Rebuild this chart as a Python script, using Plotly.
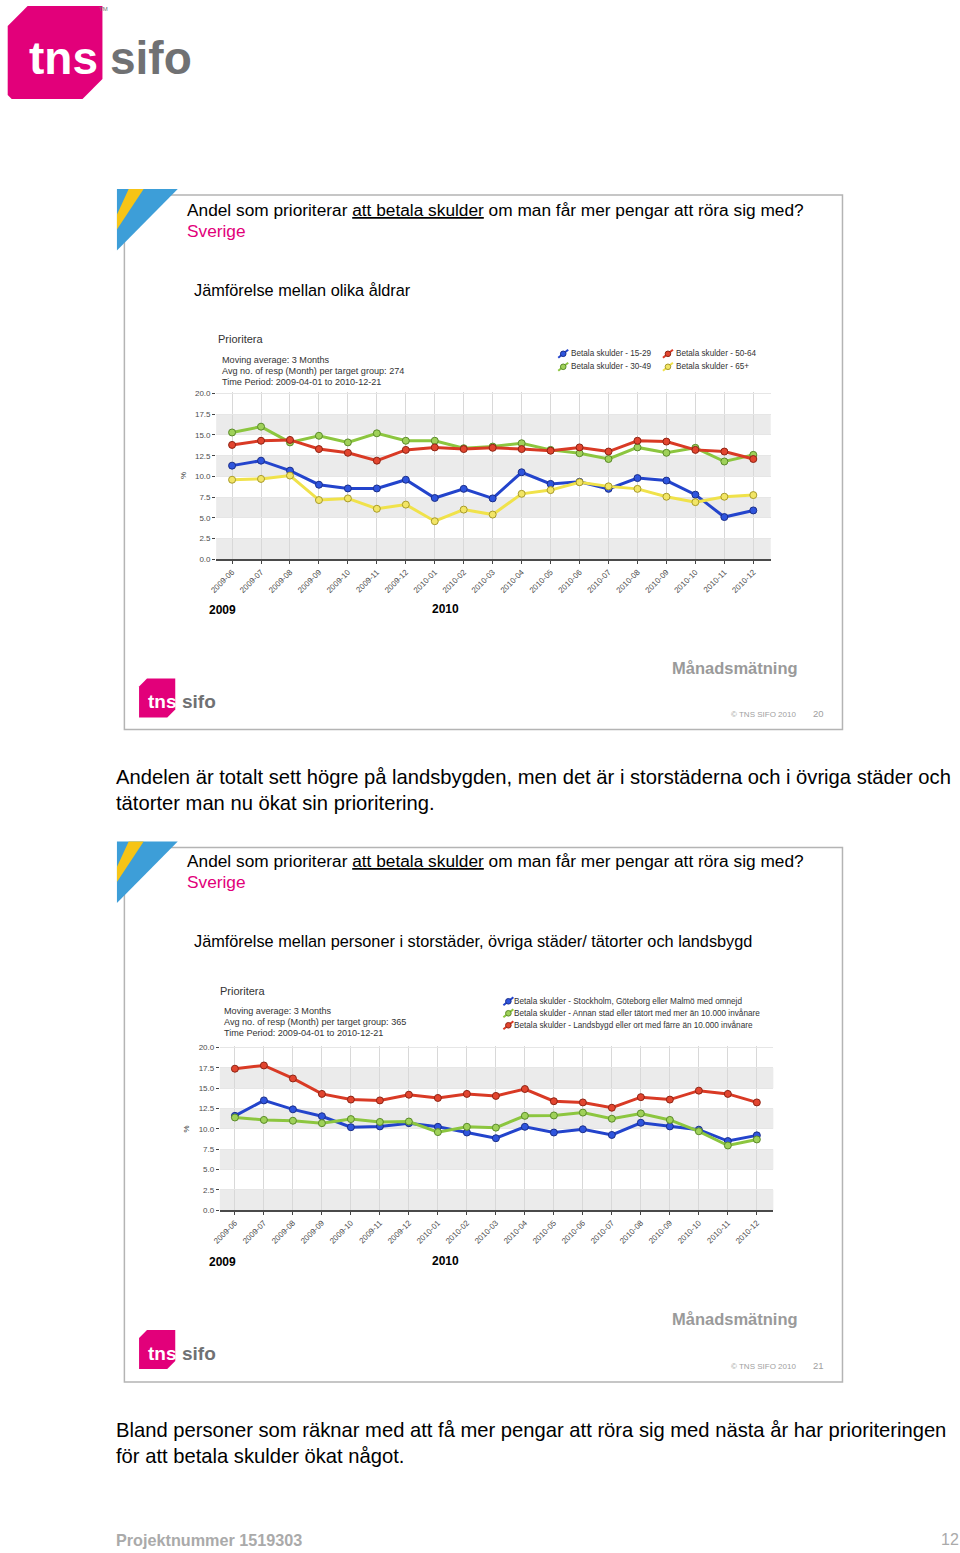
import plotly.graph_objects as go

# ---------------- data ----------------
months = ['2009-06', '2009-07', '2009-08', '2009-09', '2009-10', '2009-11', '2009-12',
          '2010-01', '2010-02', '2010-03', '2010-04', '2010-05', '2010-06', '2010-07',
          '2010-08', '2010-09', '2010-10', '2010-11', '2010-12']

age_15_29 = [11.3, 11.9, 10.7, 9.0, 8.55, 8.55, 9.6, 7.4, 8.5, 7.35, 10.5, 9.1, 9.35, 8.5, 9.8, 9.5, 7.8, 5.1, 5.9]
age_30_49 = [15.3, 16.0, 14.1, 14.9, 14.1, 15.2, 14.3, 14.3, 13.4, 13.6, 14.0, 13.2, 12.8, 12.1, 13.5, 12.85, 13.45, 11.8, 12.6]
age_50_64 = [13.8, 14.3, 14.4, 13.3, 12.85, 11.9, 13.2, 13.5, 13.3, 13.45, 13.3, 13.1, 13.5, 13.0, 14.3, 14.2, 13.2, 13.0, 12.1]
age_65 = [9.6, 9.7, 10.1, 7.15, 7.35, 6.1, 6.6, 4.6, 6.0, 5.4, 7.9, 8.35, 9.3, 8.8, 8.5, 7.55, 6.9, 7.55, 7.75]

storstad = [11.6, 13.5, 12.4, 11.55, 10.2, 10.3, 10.7, 10.25, 9.55, 8.85, 10.25, 9.55, 9.95, 9.25, 10.75, 10.3, 9.9, 8.5, 9.2]
annan_stad = [11.4, 11.1, 11.0, 10.7, 11.2, 10.85, 10.9, 9.6, 10.25, 10.15, 11.6, 11.65, 12.0, 11.25, 11.9, 11.1, 9.7, 7.95, 8.7]
landsbygd = [17.4, 17.8, 16.2, 14.3, 13.6, 13.5, 14.2, 13.8, 14.3, 14.05, 14.9, 13.4, 13.25, 12.6, 13.9, 13.6, 14.7, 14.3, 13.25]

age_names = ['Betala skulder - 15-29', 'Betala skulder - 30-49', 'Betala skulder - 50-64', 'Betala skulder - 65+']
region_names = ['Betala skulder - Stockholm, Göteborg eller Malmö med omnejd',
                'Betala skulder - Annan stad eller tätort med mer än 10.000 invånare',
                'Betala skulder - Landsbygd eller ort med färre än 10.000 invånare']

y_ticks = [0, 2.5, 5, 7.5, 10, 12.5, 15, 17.5, 20]

# ---------------- styles ----------------
W, H = 960, 1553
FONT = 'Arial, Liberation Sans, sans-serif'
MAGENTA = '#e2007a'
BLUE = dict(line='#2344cc', fill='#2f55dd', edge='#1b2f8a')
GREEN = dict(line='#8cc63f', fill='#9fd159', edge='#5a8a2a')
RED = dict(line='#d93a25', fill='#e2452f', edge='#8e2414')
YELLOW = dict(line='#f0e24a', fill='#f2e566', edge='#a89b2a')

# page-pixel -> paper fraction helpers
SX, OX = 0.9943, 5.3
SY, OY = 0.99564, 1.9


def px(x):
    return ((x - OX) / SX) / W


def py(y):
    return 1 - ((y - OY) / SY) / H


def txt(x, y, s, size, color='#000000', bold=False, anchor='left'):
    if bold:
        s = '<b>' + s + '</b>'
    if anchor == 'left':
        x = x - 3
    return dict(x=px(x), y=py(y), xref='paper', yref='paper', text=s, showarrow=False,
                xanchor=anchor, yanchor='middle', align='left',
                font=dict(size=size, color=color, family=FONT))


def poly(points, color, line_color=None, width=0):
    path = 'M ' + ' L '.join(f'{px(a):.5f},{py(b):.5f}' for a, b in points) + ' Z'
    return dict(type='path', path=path, xref='paper', yref='paper', fillcolor=color,
                line=dict(color=line_color or color, width=width), layer='above')


fig = go.Figure()


def add_series(values, name, col, xa, ya):
    fig.add_trace(go.Scatter(
        x=months, y=values, name=name, mode='lines+markers', xaxis=xa, yaxis=ya,
        line=dict(color=col['line'], width=3),
        marker=dict(size=7, color=col['fill'], line=dict(color=col['edge'], width=1)),
        showlegend=False))


add_series(age_15_29, age_names[0], BLUE, 'x', 'y')
add_series(age_30_49, age_names[1], GREEN, 'x', 'y')
add_series(age_50_64, age_names[2], RED, 'x', 'y')
add_series(age_65, age_names[3], YELLOW, 'x', 'y')

add_series(storstad, region_names[0], BLUE, 'x2', 'y2')
add_series(annan_stad, region_names[1], GREEN, 'x2', 'y2')
add_series(landsbygd, region_names[2], RED, 'x2', 'y2')

xaxis_common = dict(type='category', showgrid=True, gridcolor='#d8d8d8', gridwidth=0.8,
                    showline=True, linecolor='#4a4a4a', linewidth=2,
                    ticks='outside', ticklen=3, tickcolor='#444', tickwidth=1,
                    tickangle=-45, tickfont=dict(size=8, color='#4d4d4d', family=FONT),
                    zeroline=False, fixedrange=True)
yaxis_common = dict(range=[0, 20.2], tickvals=y_ticks, tickformat='.1f',
                    showgrid=True, gridcolor='#e6e6e6', gridwidth=0.8,
                    showline=False, zeroline=False,
                    ticks='outside', ticklen=3, tickcolor='#444', tickwidth=1,
                    tickfont=dict(size=8, color='#4d4d4d', family=FONT), fixedrange=True)

fig.update_layout(
    width=W, height=H, autosize=False,
    margin=dict(l=0, r=0, t=0, b=0, pad=0),
    paper_bgcolor='white', plot_bgcolor='white',
    showlegend=False,
    xaxis=dict(domain=[px(214), px(770)], range=[-0.55, 18.6], anchor='y', **xaxis_common),
    yaxis=dict(domain=[py(558.7), py(558.7 - 20.2 * 8.3)], anchor='x', **yaxis_common),
    xaxis2=dict(domain=[px(217.7), px(772.7)], range=[-0.52, 18.57], anchor='y2', **xaxis_common),
    yaxis2=dict(domain=[py(1210), py(1210 - 20.2 * 8.135)], anchor='x2', **yaxis_common),
)

shapes = []
# alternating grey bands (ggplot-like panel)
for yr, xr in (('y', 'x domain'), ('y2', 'x2 domain')):
    for lo in (0, 5, 10, 15):
        shapes.append(dict(type='rect', xref=xr, yref=yr, x0=0, x1=1, y0=lo, y1=lo + 2.5,
                           fillcolor='#ebebeb', line=dict(width=0), layer='below'))

# slide frames
for top in (194, 847):
    shapes.append(dict(type='rect', xref='paper', yref='paper', x0=px(122), x1=px(842),
                       y0=py(top), y1=py(top + 535), line=dict(color='#b4b4b4', width=1.5),
                       fillcolor='rgba(0,0,0,0)', layer='below'))

# flag corner decoration
for dy in (0, 653):
    shapes.append(poly([(114.5, 188 + dy), (175.5, 188 + dy), (114.5, 249.5 + dy)], '#3d9ed8'))
    shapes.append(poly([(126.3, 188 + dy), (141.3, 188 + dy), (114.5, 228.7 + dy), (114.5, 213.7 + dy)], '#f6c416'))

# big logo
shapes.append(poly([(5, 25), (25, 5), (100, 5), (100, 78), (80, 98), (9, 98), (5, 94)], MAGENTA))
# small logos
for dy in (0, 652):
    shapes.append(poly([(136.7, 686 + dy), (144.7, 678 + dy), (173, 678 + dy), (173, 709 + dy),
                        (165, 717 + dy), (136.7, 717 + dy)], MAGENTA))


# manual legends (key symbols)
def legend_key(x, y, col):
    shapes.append(dict(type='line', xref='paper', yref='paper', x0=px(x), y0=py(y + 4),
                       x1=px(x + 10), y1=py(y - 4), line=dict(color=col['line'], width=2)))
    shapes.append(dict(type='circle', xref='paper', yref='paper', x0=px(x + 2.2), x1=px(x + 7.8),
                       y0=py(y + 2.8), y1=py(y - 2.8), fillcolor=col['fill'],
                       line=dict(color=col['edge'], width=1)))


annotations = []
leg_top = [(557, 353, BLUE, age_names[0]), (557, 366, GREEN, age_names[1]),
           (662, 353, RED, age_names[2]), (662, 366, YELLOW, age_names[3])]
for x, y, col, name in leg_top:
    legend_key(x, y, col)
    annotations.append(txt(x + 14, y, name, 8.2, '#333333'))
leg_bot = [(502, 1001, BLUE, region_names[0]), (502, 1013, GREEN, region_names[1]),
           (502, 1025, RED, region_names[2])]
for x, y, col, name in leg_bot:
    legend_key(x, y, col)
    annotations.append(txt(x + 12, y, name, 8.2, '#333333'))

# slide texts
question = 'Andel som prioriterar <u>att betala skulder</u> om man får mer pengar att röra sig med?'
for dy, sub, n in ((0, 'Jämförelse mellan olika åldrar', '20'),
                   (652, 'Jämförelse mellan personer i storstäder, övriga städer/ tätorter och landsbygd', '21')):
    annotations.append(txt(186, 209 + dy, question, 17.3))
    annotations.append(txt(186, 230 + dy, 'Sverige', 17.3, MAGENTA))
    annotations.append(txt(193, 289 + dy, sub, 16.3))
    annotations.append(txt(672, 667 + dy, 'Månadsmätning', 16.5, '#9a9a9a', bold=True))
    annotations.append(txt(731, 714 + dy, '© TNS SIFO 2010', 8, '#a0a0a0'))
    annotations.append(txt(813, 713 + dy, n, 9.5, '#a0a0a0'))
    annotations.append(txt(147, 701 + dy, 'tns', 19, '#ffffff', bold=True))
    annotations.append(txt(181, 701 + dy, 'sifo', 19, '#707173', bold=True))

# chart header texts
for dy, dx, avg in ((0, 0, '274'), (653, 2, '365')):
    adj = 1 if dy else 0
    annotations.append(txt(217 + dx, 338 + dy, 'Prioritera', 11, '#333333'))
    annotations.append(txt(221 + dx, 359 + dy - adj, 'Moving average: 3 Months', 9.1, '#333333'))
    annotations.append(txt(221 + dx, 370 + dy - adj, f'Avg no. of resp (Month) per target group: {avg}', 9.1, '#333333'))
    annotations.append(txt(221 + dx, 381 + dy - adj, 'Time Period: 2009-04-01 to 2010-12-21', 9.1, '#333333'))
    annotations.append(txt(208, 609 + dy, '2009', 12, bold=True))
    annotations.append(txt(431, 608 + dy, '2010', 12, bold=True))

for xp, yp in ((181, 475), (184, 1129)):
    annotations.append(dict(x=px(xp), y=py(yp), xref='paper', yref='paper', text='%', showarrow=False,
                            textangle=-90, xanchor='center', yanchor='middle',
                            font=dict(size=8, color='#333333', family=FONT)))

# page texts
annotations.append(txt(115, 777, 'Andelen är totalt sett högre på landsbygden, men det är i storstäderna och i övriga städer och', 20.2))
annotations.append(txt(115, 803, 'tätorter man nu ökat sin prioritering.', 20.2))
annotations.append(txt(115, 1430, 'Bland personer som räknar med att få mer pengar att röra sig med nästa år har prioriteringen', 20.2))
annotations.append(txt(115, 1456, 'för att betala skulder ökat något.', 20.2))
annotations.append(txt(115, 1540, 'Projektnummer 1519303', 16.2, '#aaaaaa', bold=True))
annotations.append(txt(961, 1540, '12', 16, '#aaaaaa', anchor='right'))

# big logo texts
annotations.append(txt(27, 57, 'tns', 46, '#ffffff', bold=True))
annotations.append(txt(109, 57, 'sifo', 46, '#707173', bold=True))
annotations.append(txt(98, 8, 'TM', 6, '#707173'))

fig.update_layout(shapes=shapes, annotations=annotations)

fig.write_html('out.html')
